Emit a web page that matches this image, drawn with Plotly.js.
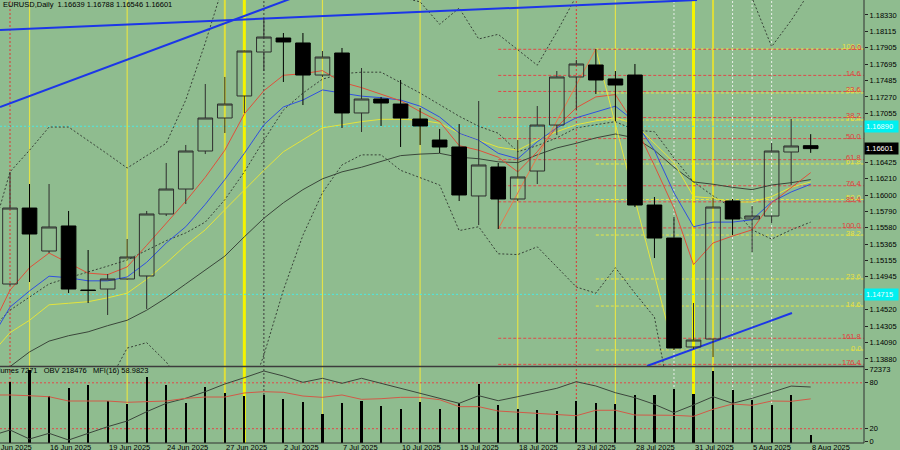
<!DOCTYPE html>
<html><head><meta charset="utf-8">
<script src="https://cdn.plot.ly/plotly-3.0.1.min.js"></script>
<style>html,body{margin:0;padding:0;background:#8fbc8f;}#chart{width:900px;height:450px;}</style>
</head><body><div id="chart"></div>
<script>
// ---------- data ----------
const dates = ["12 Jun 2025","13 Jun 2025","16 Jun 2025","17 Jun 2025","18 Jun 2025","19 Jun 2025","20 Jun 2025","23 Jun 2025","24 Jun 2025","25 Jun 2025",
"26 Jun 2025","27 Jun 2025","30 Jun 2025","1 Jul 2025","2 Jul 2025","3 Jul 2025","4 Jul 2025","7 Jul 2025","8 Jul 2025","9 Jul 2025",
"10 Jul 2025","11 Jul 2025","14 Jul 2025","15 Jul 2025","16 Jul 2025","17 Jul 2025","18 Jul 2025","21 Jul 2025","22 Jul 2025","23 Jul 2025",
"24 Jul 2025","25 Jul 2025","28 Jul 2025","29 Jul 2025","30 Jul 2025","31 Jul 2025","1 Aug 2025","4 Aug 2025","5 Aug 2025","6 Aug 2025",
"7 Aug 2025","8 Aug 2025"];
const openP = [1.14849,1.15832,1.15276,1.15600,1.14771,1.14784,1.14914,1.14953,1.15755,1.16078,
1.16570,1.16997,1.17282,1.17851,1.18032,1.17968,1.17553,1.17838,1.17062,1.17243,
1.17178,1.16984,1.16712,1.16622,1.15988,1.16363,1.15949,1.16311,1.16906,1.17528,
1.17683,1.17502,1.17553,1.15871,1.15444,1.14034,1.14137,1.15923,1.15690,1.15729,
1.16557,1.16639];
const highP = [1.16298,1.16143,1.16143,1.15794,1.15289,1.14978,1.15431,1.15794,1.16415,1.16648,
1.17437,1.17528,1.17870,1.18291,1.18097,1.18097,1.17864,1.17903,1.17644,1.17269,
1.17489,1.17126,1.16855,1.16919,1.17217,1.16415,1.16712,1.17152,1.17605,1.17748,
1.17890,1.17605,1.17696,1.15975,1.15716,1.14603,1.15962,1.15949,1.15858,1.16674,
1.16984,1.16788];
const lowP = [1.14830,1.14875,1.15250,1.14733,1.14603,1.14448,1.14905,1.14526,1.15729,1.15884,
1.16531,1.16803,1.17062,1.17605,1.17463,1.17165,1.17528,1.16868,1.16816,1.16894,
1.16622,1.16648,1.16544,1.15923,1.15612,1.15561,1.15923,1.16143,1.16777,1.17101,
1.17308,1.16958,1.15845,1.15185,1.13995,1.14008,1.13904,1.15483,1.15263,1.15638,
1.16130,1.16546];
const closeP = [1.15832,1.15496,1.15587,1.14784,1.14765,1.14914,1.15198,1.15755,1.16078,1.16570,
1.16997,1.17178,1.17864,1.18045,1.17981,1.17553,1.17786,1.17062,1.17243,1.17191,
1.16997,1.16894,1.16622,1.16001,1.16389,1.15949,1.16234,1.16906,1.17528,1.17696,
1.17489,1.17424,1.15871,1.15444,1.14021,1.14124,1.15845,1.15690,1.15729,1.16570,
1.16635,1.16601];

// indicator lines: first value belongs to the bar before 12 Jun (off the left edge)
const maRed = [1.1425,1.1477,1.1506,1.1525,1.1512,1.1499,1.1497,1.1507,1.1535,1.1563,1.1592,
1.1623,1.1658,1.1705,1.1735,1.1755,1.1757,1.1761,1.1746,1.1739,1.1731,
1.1722,1.1708,1.1695,1.1664,1.1658,1.1649,1.1630,1.1656,1.1688,1.1713,
1.1727,1.1730,1.1691,1.1638,1.1583,1.1510,1.1538,1.1547,1.1555,1.1590,
1.1610,1.1629];
const maBlue = [1.1412,1.1455,1.1476,1.1495,1.1493,1.1489,1.1489,1.1494,1.1513,1.1538,1.1559,
1.1588,1.1620,1.1654,1.1691,1.1714,1.1723,1.1736,1.1732,1.1728,1.1726,
1.1723,1.1715,1.1701,1.1680,1.1671,1.1654,1.1647,1.1669,1.1687,1.1700,
1.1708,1.1715,1.1695,1.1658,1.1603,1.1559,1.1565,1.1565,1.1568,1.1591,
1.1604,1.1614];
const maYellow = [1.1393,1.1422,1.1438,1.1458,1.1460,1.1462,1.1467,1.1473,1.1491,1.1512,1.1535,
1.1555,1.1581,1.1607,1.1632,1.1656,1.1671,1.1687,1.1691,1.1695,1.1698,
1.1698,1.1697,1.1693,1.1680,1.1671,1.1662,1.1658,1.1671,1.1682,1.1691,
1.1696,1.1700,1.1692,1.1667,1.1642,1.1598,1.1596,1.1591,1.1591,1.1598,
1.1610,1.1617];
const maSlow = [1.1361,1.1378,1.1397,1.1411,1.1418,1.1423,1.1431,1.1438,1.1451,1.1467,1.1485,
1.1503,1.1521,1.1546,1.1570,1.1590,1.1607,1.1621,1.1630,1.1636,1.1644,
1.1651,1.1653,1.1654,1.1649,1.1647,1.1643,1.1642,1.1652,1.1661,1.1667,
1.1674,1.1679,1.1674,1.1658,1.1636,1.1617,1.1614,1.1610,1.1607,1.1613,
1.1616,1.1620];
const bandMid = [1.1425,1.1451,1.1468,1.1485,1.1493,1.1500,1.1508,1.1516,1.1529,1.1541,1.1551,
1.1565,1.1594,1.1630,1.1671,1.1710,1.1732,1.1750,1.1757,1.1759,1.1759,
1.1746,1.1732,1.1717,1.1702,1.1689,1.1680,1.1656,1.1664,1.1674,1.1687,
1.1691,1.1695,1.1684,1.1682,1.1648,1.1617,1.1599,1.1583,1.1555,1.1543,
1.1555,1.1565];
const bandUp = [1.1542,1.1630,1.1658,1.1688,1.1688,1.1671,1.1653,1.1635,1.1651,1.1667,1.1723,
1.1797,1.1878,1.1917,1.1943,1.1956,1.1956,1.1956,1.1943,1.1924,1.1904,
1.1856,1.1850,1.1821,1.1842,1.1802,1.1808,1.1788,1.1768,1.1811,1.1859,
1.1904,1.1920,1.1930,1.1960,1.1990,1.1990,1.1960,1.1900,1.1855,1.1792,
1.1826,1.1865];
const bandLow = [1.1320,1.1330,1.1335,1.1340,1.1350,1.1360,1.1355,1.1402,1.1409,1.1384,1.1350,
1.1330,1.1310,1.1322,1.1393,1.1477,1.1548,1.1603,1.1639,1.1652,1.1652,
1.1632,1.1623,1.1613,1.1554,1.1559,1.1524,1.1523,1.1533,1.1507,1.1481,
1.1473,1.1506,1.1473,1.1442,1.1309,1.1250,1.1230,1.1240,1.1250,1.1270,
1.1300,1.1320];

// lower window
const volumes = [58865,70445,45355,53075,55970,40530,37635,63690,55970,38600,
54040,48250,45355,46320,42460,39565,27985,38600,40530,35705,
32810,39565,32810,38600,56935,36670,32810,31845,30880,40530,
38600,37635,46320,46320,52110,47285,69770,51145,41495,36670,
46320,7271];
const mfi = [64.0,64.1,63.1,61.8,56.2,56.2,56.2,54.5,55.3,56.2,59.7,
61.4,61.4,66.7,68.4,67.6,62.7,61.0,64.1,58.4,59.2,
61.0,61.0,57.9,48.8,48.8,43.1,41.4,39.6,37.9,37.0,
44.1,44.1,37.9,37.9,37.5,36.2,45.4,52.3,50.6,56.2,
55.8,58.98];
const obv = [-168624,-121224,-192324,-147294,-200224,-147294,-95154,-50124,23346,89706,129206,
181346,242176,291946,344876,305376,255606,287206,247706,287206,247706,
208206,168706,129206,89706,149746,110246,141846,175026,208206,260346,
226376,173446,133946,81806,15446,76276,141846,89706,129206,176606,
225747,218476];

// axis labels
const priceTicks = [1.18330,1.18115,1.17905,1.17695,1.17485,1.17270,1.17055,1.16845,1.16635,1.16425,1.16210,
1.16000,1.15790,1.15580,1.15365,1.15155,1.14945,1.14735,1.14520,1.14305,1.14090,1.13880];
const dateLabelIdx = [-1,2,5,8,11,14,17,20,23,26,29,32,35,38,41];
const dateLabelText = ["11 Jun 2025","16 Jun 2025","19 Jun 2025","24 Jun 2025","27 Jun 2025","2 Jul 2025","7 Jul 2025",
"10 Jul 2025","15 Jul 2025","18 Jul 2025","23 Jul 2025","28 Jul 2025","31 Jul 2025","5 Aug 2025","8 Aug 2025"];
const subTickVals = [98, 80, 20, 3.9];
const subTickText = ["72373","80","20","0"];
const mfiLevels = [80, 20];

// drawn objects
const trendAx=[-0.512,35.18], trendAy=[1.18136,1.18524];
const trendBx=[-0.512,15.0], trendBy=[1.17139,1.18600];
const trendCx=[32.62,40.04], trendCy=[1.13788,1.14474];
const zigUpX=[25,30], zigUpY=[1.15561,1.17890];
const zigDnX=[30,34], zigDnY=[1.17890,1.13995];
const fibLevels = [0,14.6,23.6,38.2,50,61.8,76.4,85.4,100];
const fibRedLevels = [0,14.6,23.6,38.2,50,61.8,76.4,85.4,100,161.8,176.4];
const fibRedPrices = [1.17886,1.15575]; // level 0, level 100
const fibRedStart = 25;
const fibYelPrices = [1.13995,1.17890]; // level 0, level 100
const fibYelStart = 30;
const cyanLevels = [1.16890,1.14715];
const vYellowThin=[1,6,16,21,26,31], vYellowMid=[11,36], vYellowThick=[12,35];
const vRedDot=[0,29], vGrayDot=[13], vWhiteDot=[34,37,38,39];
const lastPrice = 1.16601;

// ---------- layout geometry ----------
const FONT = 'Liberation Sans, Arial, sans-serif';
const BG = '#8fbc8f';
const xRange=[-0.512,43.73];
const yRange=[1.13788,1.18524];
const mainDom=[1-366/443,1];
const subDom=[0,75/443];
const mfiRange=[1.31,99.35];
const volRange=[0,72373];
const obvRange=[-223924,368576];

const barIdx = dates.map((d,i)=>i);
const lineIdx = [-1].concat(barIdx);
const toPaperX = x => (x-xRange[0])/(xRange[1]-xRange[0]);
const toPaperY = p => mainDom[0]+(p-yRange[0])/(yRange[1]-yRange[0])*(mainDom[1]-mainDom[0]);

function ln(x,y,color,width,dash,ya){return {type:'scatter',mode:'lines',x:x,y:y,xaxis:'x',yaxis:ya||'y',
  line:{color:color,width:width,dash:dash||'solid'},hoverinfo:'skip'};}

const traces = [
  ln(lineIdx,bandUp,'#384238',1,'2px,2px'),
  ln(lineIdx,bandLow,'#384238',1,'2px,2px'),
  ln(lineIdx,bandMid,'#384238',1,'2px,2px'),
  ln(lineIdx,maSlow,'#3a463a',1),
  ln(lineIdx,maYellow,'#e4e43c',1),
  ln(lineIdx,maBlue,'#3050e0',1),
  ln(lineIdx,maRed,'#e0503a',1),
  ln(zigUpX,zigUpY,'#e8784a',1),
  ln(zigDnX,zigDnY,'#e6e640',1),
  ln(trendAx,trendAy,'#1c36e8',2),
  ln(trendBx,trendBy,'#1c36e8',2),
  ln(trendCx,trendCy,'#1c36e8',2),
  {type:'candlestick',x:barIdx,open:openP,high:highP,low:lowP,close:closeP,xaxis:'x',yaxis:'y5',
   increasing:{line:{color:'#2e2e2e',width:1},fillcolor:'rgba(0,0,0,0)'},
   decreasing:{line:{color:'#000000',width:1},fillcolor:'#000000'},
   whiskerwidth:0,hoverinfo:'skip'},
  {type:'bar',x:barIdx,y:volumes,xaxis:'x',yaxis:'y3',width:0.11,marker:{color:'#000000',line:{width:0}},hoverinfo:'skip'},
  ln(lineIdx,obv,'#3c463c',1,'solid','y4'),
  ln(lineIdx,mfi,'#d25a48',1,'solid','y6')
];

const shapes=[];
function vline(i,color,width,dash){shapes.push({type:'line',layer:'below',xref:'x',yref:'paper',x0:i,x1:i,y0:0,y1:1,
  line:{color:color,width:width,dash:dash||'solid'}});}
vYellowThin.forEach(i=>vline(i,'#e2e24a',1.2));
vYellowMid.forEach(i=>vline(i,'#dede3a',2));
vYellowThick.forEach(i=>vline(i,'#f4f400',3));
vRedDot.forEach(i=>vline(i,'#e03434',1,'2px,2px'));
vGrayDot.forEach(i=>vline(i,'#3a3a3a',1,'2px,2px'));
vWhiteDot.forEach(i=>vline(i,'#e8efe8',1,'2px,2px'));
cyanLevels.forEach(p=>shapes.push({type:'line',layer:'below',xref:'x',yref:'y',x0:xRange[0],x1:xRange[1],y0:p,y1:p,
  line:{color:'#4ce8e0',width:1,dash:'2px,2px'}}));
const annotations=[];
function fibPrice(pr,l){return pr[0]+(pr[1]-pr[0])*l/100;}
fibLevels.forEach(l=>{const p=fibPrice(fibYelPrices,l);
  shapes.push({type:'line',layer:'below',xref:'x',yref:'y',x0:fibYelStart,x1:xRange[1],y0:p,y1:p,line:{color:'#e6e648',width:1,dash:'3px,2px'}});
  annotations.push({xref:'paper',yref:'paper',x:1,y:toPaperY(p),xanchor:'right',yanchor:'middle',xshift:-1,yshift:2,
    text:l.toFixed(1),showarrow:false,font:{family:FONT,size:7.5,color:'#e8e040'}});});
fibRedLevels.forEach(l=>{const p=fibPrice(fibRedPrices,l);
  shapes.push({type:'line',layer:'below',xref:'x',yref:'y',x0:fibRedStart,x1:xRange[1],y0:p,y1:p,line:{color:'#e04848',width:1,dash:'3px,2px'}});
  annotations.push({xref:'paper',yref:'paper',x:1,y:toPaperY(p),xanchor:'right',yanchor:'middle',xshift:-1,yshift:2,
    text:l.toFixed(1),showarrow:false,font:{family:FONT,size:7.5,color:'#e03c3c'}});});
mfiLevels.forEach(v=>shapes.push({type:'line',layer:'below',xref:'x',yref:'y2',x0:xRange[0],x1:xRange[1],y0:v,y1:v,
  line:{color:'#e04848',width:1,dash:'2px,2px'}}));
// frame
shapes.push({type:'line',xref:'paper',yref:'paper',x0:0,x1:1,y0:(443-366.5)/443,y1:(443-366.5)/443,line:{color:'#3c3c3c',width:1.5}});
shapes.push({type:'line',xref:'paper',yref:'paper',x0:1,x1:1,y0:0,y1:1,line:{color:'#303030',width:1}});
shapes.push({type:'line',xref:'paper',yref:'paper',x0:0,x1:1,y0:0,y1:0,line:{color:'#303030',width:1}});

annotations.push({xref:'paper',yref:'paper',x:0,y:1,xanchor:'left',yanchor:'top',xshift:1,yshift:2,showarrow:false,
  text:'EURUSD,Daily\u00a0\u00a01.16639 1.16788 1.16546 1.16601',font:{family:FONT,size:7.5,color:'#000'}});
annotations.push({xref:'paper',yref:'paper',x:0,y:(443-370.5)/443,xanchor:'left',yanchor:'middle',xshift:-12,showarrow:false,
  text:'Volumes 7271\u00a0\u00a0\u00a0OBV 218476\u00a0\u00a0\u00a0MFI(16) 58.9823',font:{family:FONT,size:7.5,color:'#000'}});
dateLabelIdx.forEach((i,k)=>annotations.push({xref:'paper',yref:'paper',x:toPaperX(i),y:0,xanchor:'left',yanchor:'top',
  xshift:-1,yshift:2,showarrow:false,text:dateLabelText[k],font:{family:FONT,size:7.5,color:'#000'}}));
annotations.push({xref:'paper',yref:'y',x:1,y:lastPrice,xanchor:'left',yanchor:'middle',showarrow:false,
  text:lastPrice.toFixed(5)+'\u00a0\u00a0',bgcolor:'#000000',borderpad:1,font:{family:FONT,size:7.5,color:'#ffffff'}});
cyanLevels.forEach(p=>annotations.push({xref:'paper',yref:'y',x:1,y:p,xanchor:'left',yanchor:'middle',showarrow:false,
  text:p.toFixed(5)+'\u00a0\u00a0',bgcolor:'#00f0f0',borderpad:1,font:{family:FONT,size:7.5,color:'#e8ffff'}}));

const tickFont={family:FONT,size:7.5,color:'#000'};
const layout={
  width:900,height:450,margin:{l:0,r:36,t:0,b:7,pad:0},
  paper_bgcolor:BG,plot_bgcolor:BG,showlegend:false,hovermode:false,
  boxgap:0.25,boxgroupgap:0,bargap:0,
  font:{family:FONT,size:7.5,color:'#000'},
  xaxis:{type:'linear',domain:[0,1],range:xRange,anchor:'y2',showgrid:false,zeroline:false,showticklabels:false,
    ticks:'',showline:false,fixedrange:true,rangeslider:{visible:false}},
  yaxis:{domain:mainDom,range:yRange,side:'right',anchor:'x',tickvals:priceTicks,ticktext:priceTicks.map(v=>v.toFixed(5)),
    ticks:'outside',ticklen:3,tickcolor:'#222',tickfont:tickFont,showgrid:false,zeroline:false,showline:false,fixedrange:true},
  yaxis5:{overlaying:'y',range:yRange,visible:false,fixedrange:true},
  yaxis2:{domain:subDom,range:mfiRange,side:'right',anchor:'x',tickvals:subTickVals,ticktext:subTickText,
    ticks:'outside',ticklen:3,tickcolor:'#222',tickfont:tickFont,showgrid:false,zeroline:false,showline:false,fixedrange:true},
  yaxis3:{overlaying:'y2',range:volRange,visible:false,fixedrange:true},
  yaxis4:{overlaying:'y2',range:obvRange,visible:false,fixedrange:true},
  yaxis6:{overlaying:'y2',range:mfiRange,visible:false,fixedrange:true},
  shapes:shapes,annotations:annotations
};
Plotly.newPlot('chart',traces,layout,{staticPlot:true,displayModeBar:false});
</script>
</body></html>
